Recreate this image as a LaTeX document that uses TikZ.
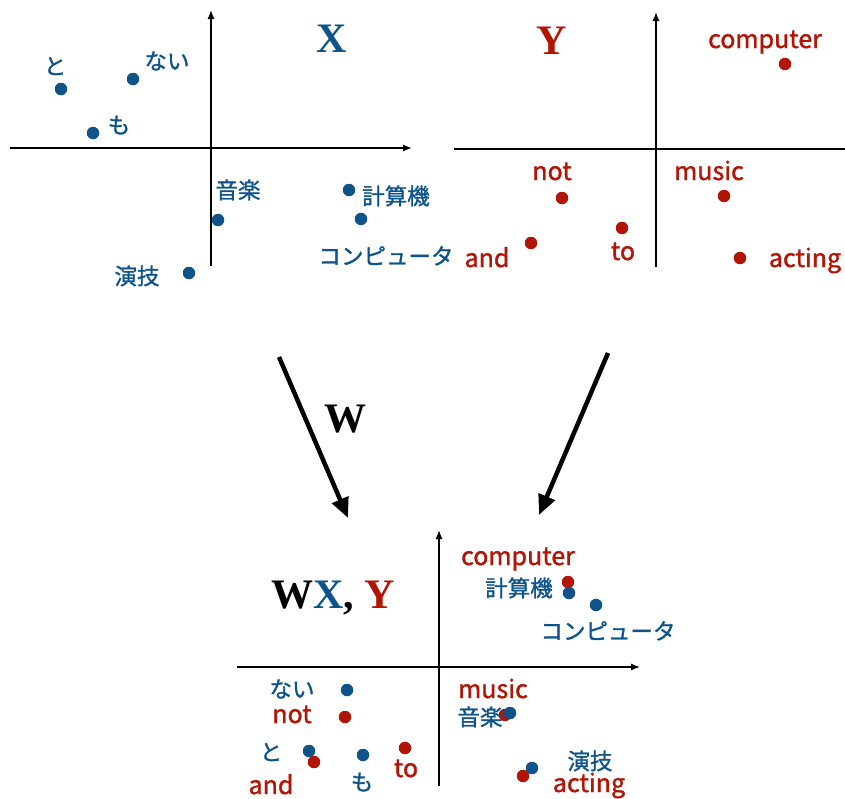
\documentclass[tikz,border=0pt]{standalone}
\usepackage{fontspec}
\setmainfont{Liberation Serif}
\newfontfamily\jpfont{Noto Sans CJK JP}[FakeBold=1.3]
\usetikzlibrary{arrows.meta}
\definecolor{myblue}{RGB}{14,84,138}
\definecolor{myred}{RGB}{178,20,6}
\begin{document}
\begin{tikzpicture}[x=1pt,y=-1pt,
  bdot/.style={circle,fill=myblue,inner sep=0pt,minimum size=12.5pt},
  rdot/.style={circle,fill=myred,inner sep=0pt,minimum size=12.5pt},
  jlab/.style={text=myblue,font=\jpfont\fontsize{22.5}{24}\selectfont,inner sep=0pt,text height=16pt,text depth=1pt},
  elab/.style={text=myred,font=\jpfont\fontsize{25}{30}\selectfont,inner sep=0pt,anchor=base},
  bigtxt/.style={font=\fontsize{42}{48}\selectfont\bfseries,inner sep=0pt,anchor=base},
  axis/.style={line width=1.3pt,-{Latex[length=9pt,width=7pt]}},
  plainaxis/.style={line width=1.3pt},
  bigarrow/.style={line width=4.5pt,-{Triangle[length=20pt,width=17pt]}}]
\useasboundingbox (0,0) rectangle (845,798);

% ---------- top left panel (X) ----------
\coordinate (xl) at (10,148);
\coordinate (xr) at (412,148);
\coordinate (xb) at (211,266);
\coordinate (xt) at (211,10);
\draw[axis] (xl) -- (xr);
\draw[axis] (xb) -- (xt);
\node[bigtxt,text=myblue] (Xt) at (332,52) {X};

\node[bdot] (d-to) at (61,89) {};
\node[bdot] (d-nai) at (133,79) {};
\node[bdot] (d-mo) at (93,133) {};
\node[bdot] (d-ongaku) at (218,220) {};
\node[bdot] (d-keisan) at (349,190) {};
\node[bdot] (d-comp) at (361,219) {};
\node[bdot] (d-engi) at (189,273) {};

\node[jlab] (l-to) at (55,67) {と};
\node[jlab] (l-nai) at (167,62) {ない};
\node[jlab] (l-mo) at (119,126) {も};
\node[jlab] (l-ongaku) at (238,191) {音楽};
\node[jlab] (l-keisan) at (396,197) {計算機};
\node[jlab] (l-comp) at (386,257) {コンピュータ};
\node[jlab] (l-engi) at (137,277) {演技};

% ---------- top right panel (Y) ----------
\coordinate (yl) at (454,149);
\coordinate (yr) at (845,149);
\coordinate (yb) at (656,267);
\coordinate (yt) at (656,12);
\draw[plainaxis] (yl) -- (yr);
\draw[axis] (yb) -- (yt);
\node[bigtxt,text=myred] (Yt) at (552,54) {Y};

\node[rdot] (e-comp) at (785,64) {};
\node[rdot] (e-not) at (562,198) {};
\node[rdot] (e-music) at (724,196) {};
\node[rdot] (e-to) at (622,228) {};
\node[rdot] (e-and) at (531,243) {};
\node[rdot] (e-acting) at (740,258) {};

\node[elab] (m-comp) at (765,48) {computer};
\node[elab] (m-not) at (552,180) {not};
\node[elab] (m-music) at (709,180) {music};
\node[elab] (m-to) at (623,260) {to};
\node[elab] (m-and) at (487,267) {and};
\node[elab] (m-acting) at (805,267) {acting};

% ---------- mapping arrows ----------
\coordinate (a1s) at (279,357);
\coordinate (a1e) at (348,518);
\coordinate (a2s) at (608,353);
\coordinate (a2e) at (539,515);
\draw[bigarrow] (a1s) -- (a1e);
\draw[bigarrow] (a2s) -- (a2e);
\node[bigtxt] (Wt) at (345,432) {W};

% ---------- bottom panel (WX, Y) ----------
\coordinate (zl) at (237,667);
\coordinate (zr) at (640,667);
\coordinate (zb) at (439,786);
\coordinate (zt) at (439,530);
\draw[axis] (zl) -- (zr);
\draw[axis] (zb) -- (zt);
\node[bigtxt] (WXY) at (333,608) {W\textcolor{myblue}{X}, \textcolor{myred}{Y}};

\node[rdot] (f-comp) at (568,582) {};
\node[bdot] (g-keisan) at (569,593) {};
\node[bdot] (g-comp) at (596,605) {};
\node[bdot] (g-nai) at (347,690) {};
\node[rdot] (f-not) at (345,717) {};
\node[bdot] (g-to) at (309,751) {};
\node[rdot] (f-and) at (314,762) {};
\node[bdot] (g-mo) at (363,755) {};
\node[rdot] (f-to) at (405,748) {};
\node[rdot] (f-music) at (505,715) {};
\node[bdot] (g-ongaku) at (510,713) {};
\node[rdot] (f-acting) at (523,776) {};
\node[bdot] (g-engi) at (532,768) {};

\node[elab] (n-comp) at (518,565) {computer};
\node[jlab] (k-keisan) at (519,589) {計算機};
\node[jlab] (k-comp) at (608,632) {コンピュータ};
\node[jlab] (k-nai) at (292,690) {ない};
\node[elab] (n-not) at (292,723) {not};
\node[jlab] (k-to) at (271,753) {と};
\node[elab] (n-and) at (271,794) {and};
\node[jlab] (k-mo) at (362,783) {も};
\node[elab] (n-to) at (406,777) {to};
\node[elab] (n-music) at (493,698) {music};
\node[jlab] (k-ongaku) at (480,718) {音楽};
\node[jlab] (k-engi) at (590,762) {演技};
\node[elab] (n-acting) at (589,792) {acting};
\end{tikzpicture}
\end{document}
